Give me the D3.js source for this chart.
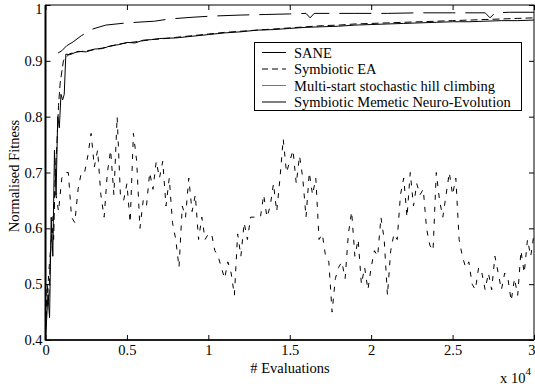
<!DOCTYPE html>
<html><head><meta charset="utf-8">
<script src="https://cdn.jsdelivr.net/npm/d3@7"></script>
<style>body{margin:0;background:#fff}svg{display:block}svg text{font-family:"Liberation Serif","Times New Roman",Times,"DejaVu Serif",serif !important;fill:#000}</style>
</head><body>
<svg id="c" width="535" height="387"></svg>
<script>
// ---- data ----
const xTicks = [0, 5000, 10000, 15000, 20000, 25000, 30000];
const xTickLabels = ["0", "0.5", "1", "1.5", "2", "2.5", "3"];
const yTicks = [0.4, 0.5, 0.6, 0.7, 0.8, 0.9, 1.0];
const yTickLabels = ["0.4", "0.5", "0.6", "0.7", "0.8", "0.9", "1"];
const seriesNames = ["SANE", "Symbiotic EA", "Multi-start stochastic hill climbing", "Symbiotic Memetic Neuro-Evolution"];

const saneX = [0,150,250,350,450,550,650,750,850,950,1050,1150,1250,1500,2000,2500,3000,3500,4000,4500,5000,5500,6000,6500,7000,8000,9000,10000,11000,12000,13000,14000,15000,16000,17000,18000,19000,20000,21000,22000,23000,24000,25000,26000,27000,28000,29000,30000];
const saneY = [0.40,0.48,0.44,0.62,0.55,0.74,0.66,0.80,0.78,0.84,0.83,0.84,0.912,0.911,0.917,0.916,0.921,0.922,0.927,0.929,0.933,0.932,0.937,0.938,0.940,0.941,0.944,0.947,0.950,0.952,0.955,0.956,0.958,0.960,0.961,0.962,0.964,0.965,0.966,0.967,0.968,0.969,0.970,0.970,0.971,0.972,0.972,0.973];

const eaX = [0,100,200,300,400,500,600,700,800,900,1000,1100,1200,1500,2000,2500,3000,3500,4000,4500,5000,5500,6000,6500,7000,8000,9000,10000,11000,12000,13000,14000,15000,16000,17000,18000,19000,20000,21000,22000,23000,24000,25000,26000,27000,28000,29000,30000];
const eaY = [0.42,0.50,0.47,0.55,0.60,0.58,0.70,0.75,0.82,0.86,0.88,0.90,0.905,0.913,0.916,0.918,0.920,0.923,0.926,0.930,0.932,0.934,0.936,0.938,0.939,0.942,0.945,0.948,0.951,0.953,0.955,0.957,0.959,0.961,0.963,0.964,0.966,0.967,0.968,0.969,0.970,0.971,0.972,0.973,0.974,0.975,0.976,0.977];

const msStep = 200;
const msY = [0.42,0.52,0.60,0.67,0.63,0.69,0.70,0.70,0.62,0.61,
             0.67,0.70,0.70,0.73,0.77,0.71,0.74,0.66,0.62,0.70,
             0.74,0.66,0.80,0.66,0.65,0.68,0.61,0.77,0.72,0.60,
             0.65,0.64,0.70,0.67,0.72,0.69,0.72,0.64,0.69,0.61,
             0.58,0.53,0.64,0.62,0.69,0.63,0.66,0.58,0.62,0.58,
             0.59,0.59,0.56,0.55,0.53,0.51,0.54,0.52,0.48,0.59,
             0.55,0.61,0.58,0.62,0.62,0.62,0.62,0.66,0.62,0.64,
             0.68,0.63,0.69,0.76,0.70,0.72,0.74,0.68,0.73,0.69,
             0.62,0.70,0.66,0.69,0.58,0.59,0.55,0.54,0.45,0.51,
             0.53,0.54,0.51,0.59,0.63,0.55,0.58,0.50,0.53,0.49,
             0.53,0.56,0.55,0.62,0.58,0.48,0.56,0.59,0.58,0.66,
             0.69,0.62,0.70,0.64,0.68,0.66,0.67,0.60,0.57,0.56,
             0.70,0.65,0.62,0.66,0.70,0.66,0.69,0.58,0.55,0.53,
             0.54,0.50,0.49,0.53,0.52,0.49,0.52,0.49,0.55,0.52,
             0.49,0.52,0.51,0.47,0.51,0.48,0.56,0.52,0.58,0.55,0.59];

const smneX = [770,1000,1300,1700,2200,2900,3700,5000,6700,7600,9000,10100,12000,13500,15000,16000,16250,16500,17500,19000,21000,23000,25000,26500,27000,27300,27600,28500,30000];
const smneY = [0.914,0.918,0.927,0.934,0.945,0.957,0.964,0.968,0.971,0.975,0.978,0.980,0.982,0.983,0.984,0.985,0.977,0.985,0.985,0.985,0.985,0.986,0.986,0.986,0.986,0.977,0.986,0.987,0.987];

// ---- layout ----
const FONT = '"Liberation Serif", "Times New Roman", Times, serif';
const FS = "14.5px";
const svg = d3.select("#c");
const L = 45.5, R = 534, T = 5, B = 340;
const x = d3.scaleLinear().domain([0, 30000]).range([L, R]);
const y = d3.scaleLinear().domain([0.4, 1]).range([B, T]);

svg.append("clipPath").attr("id", "pc").append("rect")
  .attr("x", L).attr("y", T).attr("width", R - L).attr("height", B - T);

const line = d3.line().x(d => x(d[0])).y(d => y(d[1]));
const g = svg.append("g").attr("clip-path", "url(#pc)");

const msData = msY.map((v, i) => [i * msStep, v]);
g.append("path").datum(msData).attr("d", line).attr("fill", "none")
  .attr("stroke", "#000").attr("stroke-width", 1).attr("stroke-dasharray", "5,7");
g.append("path").datum(saneX.map((v, i) => [v, saneY[i]])).attr("d", line).attr("fill", "none")
  .attr("stroke", "#000").attr("stroke-width", 1);
g.append("path").datum(eaX.map((v, i) => [v, eaY[i]])).attr("d", line).attr("fill", "none")
  .attr("stroke", "#000").attr("stroke-width", 1).attr("stroke-dasharray", "7,4");
g.append("path").datum(smneX.map((v, i) => [v, smneY[i]])).attr("d", line).attr("fill", "none")
  .attr("stroke", "#000").attr("stroke-width", 1).attr("stroke-dasharray", "32,10");

// ---- axes ----
const fmtX = (d) => xTickLabels[xTicks.indexOf(d)];
const fmtY = (d) => yTickLabels[yTicks.findIndex(t => Math.abs(t - d) < 1e-9)];
const ax = svg.append("g").attr("transform", `translate(0,${B})`)
  .call(d3.axisBottom(x).tickValues(xTicks).tickFormat(fmtX).tickSize(-5).tickPadding(5));
const ay = svg.append("g").attr("transform", `translate(${L},0)`)
  .call(d3.axisLeft(y).tickValues(yTicks).tickFormat(fmtY).tickSize(-5).tickPadding(3));
const at = svg.append("g").attr("transform", `translate(0,${T})`)
  .call(d3.axisTop(x).tickValues(xTicks).tickFormat("").tickSize(-5));
const ar = svg.append("g").attr("transform", `translate(${R},0)`)
  .call(d3.axisRight(y).tickValues(yTicks).tickFormat("").tickSize(-5));
[ax, ay, at, ar].forEach(a => {
  a.attr("font-family", FONT).attr("font-size", FS);
  a.select(".domain").remove();
  a.selectAll("line").attr("stroke", "#000");
  a.selectAll("text").attr("font-family", FONT).attr("font-size", FS).attr("fill", "#000");
});
ay.selectAll("text").filter(d => d === 1.0).attr("dy", "0.6em");
ax.selectAll("text").filter(d => d === 30000).attr("text-anchor", "end").attr("dx", "1px");

svg.append("rect").attr("x", L).attr("y", T).attr("width", R - L).attr("height", B - T)
  .attr("fill", "none").attr("stroke", "#000").attr("stroke-width", 1);
svg.append("line").attr("x1", L).attr("x2", L).attr("y1", T).attr("y2", B + 0.5).attr("stroke", "#000").attr("stroke-width", 2);
svg.append("line").attr("x1", L).attr("x2", R).attr("y1", B).attr("y2", B).attr("stroke", "#000").attr("stroke-width", 1.5);

// labels
svg.append("text").attr("x", 290).attr("y", 373).attr("text-anchor", "middle")
  .attr("font-family", FONT).attr("font-size", FS).text("# Evaluations");
svg.append("text").attr("transform", "translate(19,176) rotate(-90)").attr("text-anchor", "middle")
  .attr("font-family", FONT).attr("font-size", FS).text("Normalised Fitness");
const ex = svg.append("text").attr("x", 500).attr("y", 383).attr("font-family", FONT).attr("font-size", FS);
ex.append("tspan").text("x 10");
ex.append("tspan").attr("dy", -8).attr("font-size", "11px").text("4");

// legend
const lg = svg.append("g");
lg.append("rect").attr("x", 254.5).attr("y", 42.5).attr("width", 267).attr("height", 68)
  .attr("fill", "#fff").attr("stroke", "#000").attr("stroke-width", 1);
const legStyles = [
  {c: "#000", dash: null},
  {c: "#000", dash: "6,4"},
  {c: "#777", dash: null},
  {c: "#000", dash: null}
];
seriesNames.forEach((n, i) => {
  const yy = 52.5 + i * 16.5;
  const l = lg.append("line").attr("x1", 262).attr("x2", 286).attr("y1", yy).attr("y2", yy)
    .attr("stroke", legStyles[i].c).attr("stroke-width", 1);
  if (legStyles[i].dash) l.attr("stroke-dasharray", legStyles[i].dash);
  lg.append("text").attr("x", 294).attr("y", yy + 5).attr("font-family", FONT).attr("font-size", FS).text(n);
});
</script>
</body></html>
